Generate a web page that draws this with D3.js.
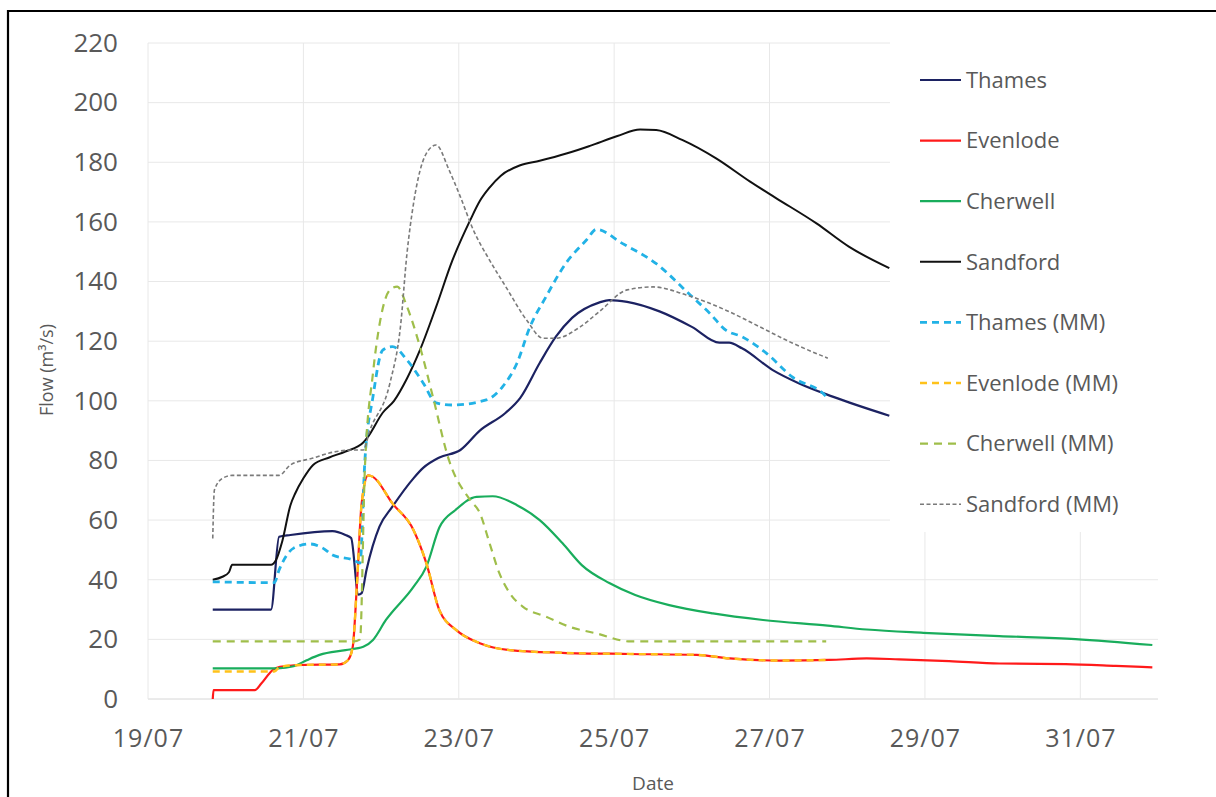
<!DOCTYPE html>
<html>
<head>
<meta charset="utf-8">
<script src="https://cdn.jsdelivr.net/npm/d3@7"></script>
<style>
  body { margin: 0; background: #fff; }
  svg { display: block; }
  text { font-family: "Open Sans", "Liberation Sans", sans-serif; fill: #595959; }
</style>
</head>
<body>
<svg id="chart" width="1216" height="797"></svg>
<script>
// Observed flows (date/time, m3/s)
const thames = [
  ["19/07 20:00", 30], ["20/07 14:00", 30], ["20/07 16:30", 54.4], ["20/07 20:00", 55],
  ["21/07 09:00", 56.3], ["21/07 13:00", 55], ["21/07 14:45", 54], ["21/07 17:00", 35],
  ["21/07 18:00", 35.5], ["21/07 19:30", 43.3], ["21/07 23:30", 57.8], ["22/07 03:30", 64.5],
  ["22/07 10:00", 74], ["22/07 13:00", 77.5], ["22/07 18:00", 81], ["23/07 00:30", 83.5],
  ["23/07 06:30", 90], ["23/07 14:30", 96], ["23/07 19:00", 101], ["24/07 01:00", 112.7],
  ["24/07 06:00", 121.5], ["24/07 11:00", 127.8], ["24/07 19:30", 133], ["24/07 22:30", 133.8],
  ["25/07 04:00", 133.2], ["25/07 14:00", 130], ["26/07 00:00", 124.8], ["26/07 08:30", 119.5],
  ["26/07 11:30", 119.5], ["26/07 15:30", 117.6], ["27/07 01:00", 110.3], ["27/07 09:00", 105.9],
  ["27/07 19:30", 101.4], ["28/07 13:00", 95]
];
const evenlode = [
  ["19/07 20:00", 0], ["19/07 20:15", 3], ["20/07 09:00", 3], ["20/07 11:00", 5.2],
  ["20/07 14:30", 9.7], ["20/07 16:45", 10.8], ["20/07 23:00", 11.4], ["21/07 11:15", 11.6],
  ["21/07 13:45", 13], ["21/07 15:15", 17.5], ["21/07 16:30", 37.6], ["21/07 18:00", 65.6],
  ["21/07 20:00", 75], ["21/07 21:30", 74.5], ["22/07 03:30", 65.6], ["22/07 10:00", 56.7],
  ["22/07 14:00", 45.5], ["22/07 18:00", 29.8], ["22/07 23:15", 23.1], ["23/07 06:30", 18.7],
  ["23/07 15:45", 16.4], ["24/07 08:00", 15.5], ["25/07 05:00", 15.1], ["26/07 01:30", 14.8],
  ["26/07 11:45", 13.6], ["27/07 03:00", 12.9], ["27/07 18:30", 13.1], ["28/07 06:00", 13.6],
  ["28/07 16:00", 13.3], ["29/07 07:30", 12.7], ["29/07 23:00", 11.9], ["30/07 19:30", 11.7],
  ["31/07 11:00", 11.1], ["31/07 22:15", 10.6]
];
const cherwell = [
  ["19/07 20:00", 10.3], ["20/07 16:00", 10.3], ["20/07 21:00", 11], ["21/07 01:00", 13],
  ["21/07 05:00", 14.8], ["21/07 13:00", 16.4], ["21/07 18:30", 17.5], ["21/07 21:30", 19.8],
  ["22/07 01:30", 26.5], ["22/07 10:00", 37.6], ["22/07 14:00", 44.4], ["22/07 18:00", 57.5],
  ["22/07 23:00", 63.4], ["23/07 05:30", 67.8], ["23/07 10:30", 68], ["23/07 18:00", 65],
  ["24/07 01:00", 60], ["24/07 08:00", 52.3], ["24/07 14:00", 44.9], ["24/07 22:30", 38.9],
  ["25/07 06:30", 34.9], ["25/07 17:00", 31.5], ["26/07 06:30", 28.7], ["26/07 22:00", 26.5],
  ["27/07 18:00", 24.6], ["28/07 06:00", 23.3], ["28/07 23:30", 22.2], ["29/07 23:00", 21.1],
  ["30/07 22:30", 20.1], ["31/07 22:15", 18.1]
];
const sandford = [
  ["19/07 20:00", 40], ["19/07 23:00", 41], ["20/07 01:00", 42.5], ["20/07 02:00", 45],
  ["20/07 14:00", 45], ["20/07 15:30", 46.5], ["20/07 17:30", 53], ["20/07 20:00", 65],
  ["20/07 21:30", 69], ["21/07 00:00", 74], ["21/07 03:00", 78.5], ["21/07 08:00", 81],
  ["21/07 13:00", 83], ["21/07 18:30", 86], ["21/07 20:00", 88], ["22/07 00:30", 96],
  ["22/07 04:00", 100], ["22/07 08:00", 107.5], ["22/07 12:00", 117], ["22/07 17:00", 131.5],
  ["22/07 22:00", 147], ["23/07 03:30", 160.5], ["23/07 06:30", 167], ["23/07 09:30", 171.5],
  ["23/07 13:00", 175.5], ["23/07 19:00", 179], ["24/07 01:00", 180.5], ["24/07 09:30", 183],
  ["24/07 16:30", 185.5], ["25/07 01:00", 188.8], ["25/07 08:00", 191], ["25/07 13:00", 190.8],
  ["25/07 21:00", 187.5], ["26/07 07:30", 181.3], ["26/07 18:00", 173.5], ["27/07 02:00", 168],
  ["27/07 14:30", 159.5], ["28/07 00:30", 151.7], ["28/07 13:00", 144.5]
];

// Modelled flows (MM)
const thamesMM = [
  ["19/07 20:00", 39.3], ["20/07 15:00", 39], ["20/07 16:30", 43.3], ["20/07 21:00", 50.6],
  ["21/07 02:00", 52], ["21/07 06:00", 50.6], ["21/07 09:00", 48.3], ["21/07 15:30", 46.6],
  ["21/07 17:30", 45.6], ["21/07 19:00", 80], ["21/07 21:30", 101.4], ["22/07 00:30", 117],
  ["22/07 03:30", 118.2], ["22/07 08:00", 113.7], ["22/07 13:00", 106], ["22/07 17:00", 99.3],
  ["22/07 22:00", 98.6], ["23/07 08:30", 100.3], ["23/07 13:30", 104.7], ["23/07 18:00", 112.7],
  ["23/07 22:00", 124.8], ["24/07 03:00", 135], ["24/07 09:00", 146], ["24/07 15:30", 154],
  ["24/07 18:30", 157.5], ["25/07 02:30", 152.8], ["25/07 13:00", 146], ["25/07 23:30", 135.5],
  ["26/07 05:30", 129.4], ["26/07 10:30", 123.7], ["26/07 15:30", 121.5], ["26/07 23:00", 116],
  ["27/07 07:00", 108], ["27/07 17:30", 101.4], ["27/07 18:00", 100.5]
];
const evenlodeMM = [
  ["19/07 20:00", 9.2], ["20/07 15:00", 9.2], ["20/07 16:45", 10.8], ["20/07 23:00", 11.4],
  ["21/07 11:15", 11.6], ["21/07 13:45", 13], ["21/07 15:15", 17.5], ["21/07 16:30", 37.6],
  ["21/07 18:00", 65.6], ["21/07 20:00", 75], ["21/07 21:30", 74.5], ["22/07 03:30", 65.6],
  ["22/07 10:00", 56.7], ["22/07 14:00", 45.5], ["22/07 18:00", 29.8], ["22/07 23:15", 23.1],
  ["23/07 06:30", 18.7], ["23/07 15:45", 16.4], ["24/07 08:00", 15.5], ["25/07 05:00", 15.1],
  ["26/07 01:30", 14.8], ["26/07 11:45", 13.6], ["27/07 03:00", 12.9], ["27/07 18:00", 13.1]
];
const cherwellMM = [
  ["19/07 20:00", 19.3], ["21/07 15:30", 19.3], ["21/07 17:30", 20], ["21/07 19:00", 77.5],
  ["21/07 21:30", 109.3], ["21/07 23:45", 127], ["22/07 02:45", 137.2], ["22/07 05:00", 138.3],
  ["22/07 08:00", 131.6], ["22/07 12:00", 118.2], ["22/07 16:00", 101.4], ["22/07 21:00", 80],
  ["23/07 03:30", 66.7], ["23/07 06:30", 62.4], ["23/07 09:30", 52.3], ["23/07 12:30", 42.3],
  ["23/07 15:45", 35.5], ["23/07 19:45", 31], ["24/07 03:00", 27.6], ["24/07 10:15", 24.2],
  ["24/07 18:30", 22], ["25/07 05:00", 19.3], ["27/07 17:30", 19.3]
];
const sandfordMM = [
  ["19/07 20:00", 53.8], ["19/07 20:30", 70], ["19/07 23:00", 74], ["20/07 02:00", 75],
  ["20/07 16:30", 75], ["20/07 20:00", 78.5], ["21/07 03:00", 80.8], ["21/07 08:00", 82.5],
  ["21/07 15:30", 83.5], ["21/07 18:30", 83.5], ["21/07 20:30", 90], ["22/07 02:45", 106],
  ["22/07 06:00", 125], ["22/07 08:00", 149.4], ["22/07 10:00", 166], ["22/07 14:00", 183],
  ["22/07 17:00", 185.8], ["22/07 21:00", 177.4], ["23/07 00:30", 168.4], ["23/07 04:30", 157.3],
  ["23/07 09:30", 147.2], ["23/07 14:30", 138.3], ["23/07 21:00", 127], ["24/07 02:00", 121],
  ["24/07 06:00", 121], ["24/07 13:30", 124.8], ["24/07 19:30", 130], ["25/07 04:00", 137.2],
  ["25/07 12:00", 138.2], ["25/07 22:15", 135.5], ["26/07 10:30", 130.4], ["26/07 21:00", 124.8],
  ["27/07 07:00", 119.4], ["27/07 18:00", 114.3]
];

const xTickLabels = ["19/07", "21/07", "23/07", "25/07", "27/07", "29/07", "31/07"];
const yTicks = [0, 20, 40, 60, 80, 100, 120, 140, 160, 180, 200, 220];

const series = [
  { name: "Thames", data: thames, color: "#1c2262", width: 2.2, dash: null },
  { name: "Evenlode", data: evenlode, color: "#ff1a1a", width: 2.2, dash: null },
  { name: "Cherwell", data: cherwell, color: "#19ad5c", width: 2.2, dash: null },
  { name: "Sandford", data: sandford, color: "#111111", width: 2, dash: null },
  { name: "Thames (MM)", data: thamesMM, color: "#22b2e6", width: 2.8, dash: "7,5" },
  { name: "Evenlode (MM)", data: evenlodeMM, color: "#ffc21a", width: 2.4, dash: "7,5" },
  { name: "Cherwell (MM)", data: cherwellMM, color: "#9fbe4a", width: 2.2, dash: "8,6" },
  { name: "Sandford (MM)", data: sandfordMM, color: "#7a7a7a", width: 1.6, dash: "4,2.5" }
];

const parseTime = d3.timeParse("%d/%m %H:%M");
const parseDay = d3.timeParse("%d/%m");

const svg = d3.select("#chart");
const plotLeft = 148, plotRight = 1158, plotTop = 43, plotBottom = 699;

const x = d3.scaleTime()
  .domain([parseDay("19/07"), parseDay("01/08")])
  .range([plotLeft, plotRight]);
const y = d3.scaleLinear().domain([0, 220]).range([plotBottom, plotTop]);

// Outer frame
svg.append("path")
  .attr("d", "M8,797 V11 H1216")
  .attr("fill", "none").attr("stroke", "#000").attr("stroke-width", 2.2);

// Gridlines
const grid = svg.append("g");
grid.selectAll("line.h").data(yTicks).join("line").attr("class", "h")
  .attr("x1", plotLeft).attr("x2", plotRight)
  .attr("y1", d => y(d)).attr("y2", d => y(d))
  .attr("stroke", d => d === 0 ? "#d6d6d6" : "#e8e8e8").attr("stroke-width", 1);
grid.selectAll("line.v").data(xTickLabels.map(parseDay)).join("line").attr("class", "v")
  .attr("x1", d => x(d)).attr("x2", d => x(d))
  .attr("y1", plotTop).attr("y2", plotBottom)
  .attr("stroke", "#e8e8e8").attr("stroke-width", 1);

// Axes (labels only)
const yAxis = svg.append("g").attr("transform", `translate(${plotLeft - 30},0)`)
  .call(d3.axisLeft(y).tickValues(yTicks).tickSize(0).tickPadding(0));
yAxis.select(".domain").remove();
yAxis.selectAll("text").attr("font-size", 26).attr("fill", "#595959")
  .attr("font-family", "'Open Sans', sans-serif");

const xAxis = svg.append("g").attr("transform", `translate(0,${plotBottom + 30})`)
  .call(d3.axisBottom(x).tickValues(xTickLabels.map(parseDay))
    .tickFormat(d3.timeFormat("%d/%m")).tickSize(0).tickPadding(0));
xAxis.select(".domain").remove();
xAxis.selectAll("text").attr("font-size", 25).attr("fill", "#595959")
  .attr("font-family", "'Open Sans', sans-serif").attr("dy", "0.71em")
  .style("letter-spacing", "1px");

// Axis titles
svg.append("text").attr("x", (plotLeft + plotRight) / 2).attr("y", 790)
  .attr("text-anchor", "middle").attr("font-size", 19).text("Date");
svg.append("text").attr("transform", "translate(53,370) rotate(-90)")
  .attr("text-anchor", "middle").attr("font-size", 18).text("Flow (m³/s)");

// Series lines
const line = d3.line()
  .x(d => x(parseTime(d[0])))
  .y(d => y(d[1]))
  .curve(d3.curveMonotoneX);

svg.append("g").selectAll("path").data(series).join("path")
  .attr("d", s => line(s.data))
  .attr("fill", "none")
  .attr("stroke", s => s.color)
  .attr("stroke-width", s => s.width)
  .attr("stroke-dasharray", s => s.dash)
  .attr("stroke-linejoin", "round");

// Legend
const legend = svg.append("g");
legend.append("rect").attr("x", 890).attr("y", 38).attr("width", 270).attr("height", 494)
  .attr("fill", "#fff");
const rows = legend.selectAll("g.row").data(series).join("g").attr("class", "row")
  .attr("transform", (s, i) => `translate(920,${80 + i * 60.6})`);
rows.append("line").attr("x1", 0).attr("x2", 41).attr("y1", 0).attr("y2", 0)
  .attr("stroke", s => s.color).attr("stroke-width", s => s.width)
  .attr("stroke-dasharray", s => s.dash);
rows.append("text").attr("x", 46).attr("dy", "0.35em").attr("font-size", 22)
  .attr("fill", "#595959").text(s => s.name);
</script>
</body>
</html>
